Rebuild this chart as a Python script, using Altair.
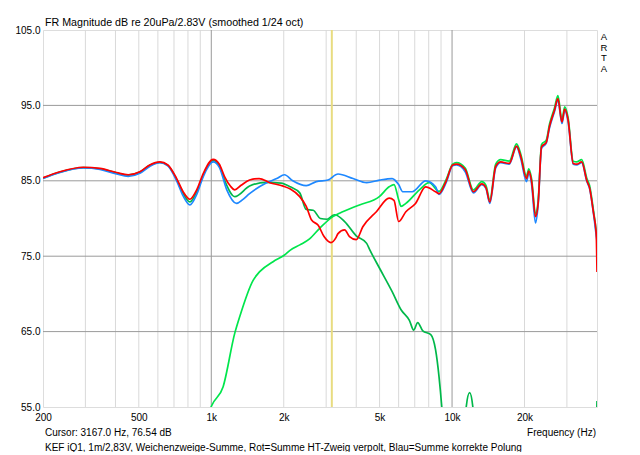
import altair as alt
import pandas as pd

# ---------------- data ----------------
red_f = [200, 235, 294, 345, 404, 452, 505, 555, 612, 660, 718, 764, 815, 870, 927,
         1018, 1080, 1138, 1200, 1252, 1330, 1442, 1580, 1750, 1990, 2130, 2330, 2480,
         2610, 2780, 2940, 3140, 3300, 3360, 3580, 3750, 4000, 4260, 4850, 5480, 5740,
         6000, 6430, 7050, 7770, 8540, 8830, 9460, 10060, 10430, 11340, 12260, 13290,
         13830, 14350, 15180, 15920, 17280, 18530, 19310, 20380, 20840, 21390, 22220,
         22780, 23530, 24620, 25390, 26650, 27520, 28610, 29370, 30330, 31860, 32930,
         34560, 36310, 37240, 38700, 39700, 40000]
red_db = [85.4, 86.2, 86.8, 86.65, 86.1, 85.8, 86.2, 87.1, 87.5, 87.1, 85.3, 83.55, 82.55,
          83.8, 86.0, 87.85, 87.2, 85.5, 84.3, 83.8, 84.4, 85.1, 85.3, 84.75, 84.3, 83.9,
          82.9, 81.6, 79.8, 79.1, 77.6, 76.8, 77.5, 78.0, 78.5, 77.6, 77.2, 78.9, 80.9,
          82.7, 82.4, 79.6, 80.9, 82.0, 84.2, 83.55, 83.3, 85.0, 87.1, 87.2, 86.5, 83.55,
          84.6, 84.1, 82.2, 86.9, 87.5, 87.3, 89.6, 88.2, 85.3, 86.3, 85.0, 80.25, 82.0,
          89.5, 90.1, 92.2, 94.4, 95.9, 92.8, 94.5, 93.1, 87.3, 87.2, 87.5, 85.0, 84.1,
          80.7, 78.0, 72.9]

blue_f = [200, 235, 294, 345, 404, 452, 505, 555, 612, 660, 718, 764, 815, 870, 927,
          1018, 1080, 1160, 1273, 1350, 1442, 1690, 1870, 2014, 2180, 2480, 2730, 3050,
          3360, 3880, 4420, 5000, 5640, 6000, 6240, 6830, 7770, 8540, 8830, 9460, 10060,
          10430, 11340, 12260, 13290, 13830, 14350, 15180, 15920, 17280, 18530, 19310,
          20380, 20840, 21390, 22220, 22780, 23530, 24620, 25390, 26650, 27520, 28610,
          29370, 30330, 31860, 32930, 34560, 36310, 37240, 38700, 39700, 40000]
blue_db = [85.3, 86.1, 86.7, 86.5, 85.9, 85.6, 86.0, 86.9, 87.4, 87.0, 85.0, 83.0, 81.8,
           83.2, 85.6, 87.5, 86.8, 83.8, 82.0, 82.5, 83.3, 84.7, 85.3, 85.8, 85.0, 84.35,
           84.9, 85.1, 85.9, 85.3, 84.75, 85.1, 85.3, 84.5, 83.55, 83.55, 85.0, 84.2, 83.2,
           84.8, 87.0, 87.1, 86.2, 83.4, 84.5, 84.0, 82.0, 86.7, 87.4, 87.2, 89.5, 87.9,
           84.9, 86.0, 84.6, 79.4, 81.8, 89.3, 90.0, 92.0, 94.2, 95.7, 92.6, 94.3, 92.9,
           87.2, 87.1, 87.4, 84.9, 84.0, 80.6, 77.8, 77.0]

low_f = [200, 235, 294, 345, 404, 452, 505, 555, 612, 660, 718, 764, 815, 870, 927,
         1018, 1080, 1138, 1252, 1442, 1690, 1950, 2130, 2330, 2480, 2650, 2840, 3030,
         3250, 3580, 4000, 4420, 4560, 5000, 5640, 6140, 6650, 6930, 7200, 7560, 8160,
         8540, 8830, 9060, 9300, 11200, 11450, 11830, 12200, 12500, 39500, 40000]
low_db = [85.35, 86.15, 86.75, 86.6, 86.05, 85.75, 86.15, 87.05, 87.45, 87.05, 85.2,
          83.3, 82.2, 83.5, 85.8, 87.7, 87.0, 85.0, 82.9, 84.3, 84.8, 84.7, 84.2, 83.4,
          81.2, 81.1, 80.0, 79.9, 80.5, 79.6, 77.7, 76.7, 75.8, 73.4, 70.3, 67.9, 66.5,
          65.2, 66.2, 65.1, 64.6, 62.6, 59.0, 55.1, 50.0, 50.0, 55.0, 56.9, 55.0, 50.0,
          50.0, 55.8]

high_f = [900, 1001, 1120, 1252, 1313, 1492, 1589, 1806, 2014, 2130, 2332, 2560, 2820,
          3200, 3410, 4124, 4989, 5480, 5740, 6000, 6140, 6430, 7320, 8040, 8830, 9460,
          10060, 10430, 11340, 12260, 13290, 13830, 14350, 15180, 15920, 17280, 18530,
          19310, 20380, 20840, 21390, 22220, 22780, 23530, 24620, 25390, 26650, 27520,
          28610, 29370, 30330, 31860, 32930, 34560, 36310, 37240, 38700, 39700, 40000]
high_db = [50.0, 55.1, 57.7, 64.8, 67.0, 71.8, 72.95, 74.27, 75.16, 75.8, 76.5, 77.3,
           78.7, 80.25, 80.7, 81.8, 82.9, 84.2, 84.5, 82.5, 81.6, 82.0, 83.8, 84.75, 83.6,
           85.2, 87.2, 87.4, 86.7, 83.8, 84.9, 84.4, 82.5, 87.2, 87.8, 87.6, 89.9, 88.5,
           85.6, 86.6, 85.3, 80.6, 82.3, 89.8, 90.4, 92.5, 94.7, 96.3, 93.1, 94.8, 93.4,
           87.6, 87.5, 87.8, 85.3, 84.4, 81.0, 78.3, 77.3]

x_tick_values = [200, 500, 1000, 2000, 5000, 10000, 20000]
y_tick_values = [55, 65, 75, 85, 95, 105]
minor_grid_f = [300, 400, 500, 600, 700, 800, 900, 2000, 3000, 4000, 5000, 6000, 7000,
                8000, 9000, 20000, 30000]
major_grid_f = [1000, 10000]
h_grid_db = [65, 75, 85, 95]
cursor_f = [3167]

title_text = "FR Magnitude dB re 20uPa/2.83V (smoothed 1/24 oct)"
cursor_text = "Cursor: 3167.0 Hz, 76.54 dB"
xlabel_text = "Frequency (Hz)"
caption_text = ("KEF iQ1, 1m/2,83V, Weichenzweige-Summe, Rot=Summe HT-Zweig verpolt, "
                "Blau=Summe korrekte Polung")
arta_letters = ["A", "R", "T", "A"]

# ---------------- chart ----------------
W, H = 554, 377
FONT = "Liberation Sans"

xs = alt.Scale(type="log", domain=[200, 40000], nice=False)
ys = alt.Scale(domain=[55, 105], nice=False, zero=False)


def series(f, db, color, width=1.7):
    df = pd.DataFrame({"f": f, "db": db})
    return alt.Chart(df).mark_line(color=color, strokeWidth=width, clip=True,
                                   interpolate="monotone").encode(
        x=alt.X("f:Q", scale=xs),
        y=alt.Y("db:Q", scale=ys),
    )


minor = alt.Chart(pd.DataFrame({"f": minor_grid_f})).mark_rule(
    color="#d9d9d9", strokeWidth=1).encode(x=alt.X("f:Q", scale=xs))
major = alt.Chart(pd.DataFrame({"f": major_grid_f})).mark_rule(
    color="#9a9a9a", strokeWidth=1).encode(x=alt.X("f:Q", scale=xs))
hgrid = alt.Chart(pd.DataFrame({"v": h_grid_db})).mark_rule(
    color="#9a9a9a", strokeWidth=1).encode(y=alt.Y("v:Q", scale=ys))
cursor = alt.Chart(pd.DataFrame({"f": cursor_f})).mark_rule(
    color="#e8dc80", strokeWidth=2).encode(x=alt.X("f:Q", scale=xs))

axes = alt.Chart(pd.DataFrame({"f": [200], "db": [55]})).mark_point(opacity=0).encode(
    x=alt.X("f:Q", scale=xs, axis=alt.Axis(
        values=x_tick_values, grid=False, ticks=False, domain=False, title=None,
        labelExpr="datum.value >= 1000 ? (datum.value / 1000) + 'k' : datum.value",
        labelFont=FONT, labelFontSize=10, labelColor="#000000", labelPadding=5,
        labelOverlap=False, labelFlush=False)),
    y=alt.Y("db:Q", scale=ys, axis=alt.Axis(
        values=y_tick_values, grid=False, ticks=False, domain=False, title=None,
        format=".1f", labelFont=FONT, labelFontSize=10, labelColor="#000000",
        labelPadding=3, labelOverlap=False, labelFlush=False)),
)


def label(text, x, y, align="left", baseline="middle", size=10):
    return alt.Chart(pd.DataFrame({"t": [text]})).mark_text(
        align=align, baseline=baseline, font=FONT, fontSize=size, color="#000000"
    ).encode(text="t:N", x=alt.value(x), y=alt.value(y))


title = label(title_text, 2, -4, baseline="alphabetic", size=10.7)
arta = [label(ch, W + 7, 2 + 10.5 * i, align="center", baseline="top", size=9.5)
        for i, ch in enumerate(arta_letters)]
cursor_lbl = label(cursor_text, 2, 403)
xlab = label(xlabel_text, W - 1, 403, align="right")
caption = label(caption_text, 2, 418)

chart = alt.layer(
    minor, major, hgrid, cursor, axes,
    series(low_f, low_db, "#00b84a"),
    series(high_f, high_db, "#00e64c"),
    series(blue_f, blue_db, "#1e88ff"),
    series(red_f, red_db, "#ff0000"),
    title, *arta, cursor_lbl, xlab, caption,
).properties(
    width=W, height=H,
    autosize=alt.AutoSizeParams(type="none"),
    padding={"left": 35, "top": 22, "right": 35, "bottom": 45},
).configure_view(stroke="#6e6e6e", strokeWidth=1.2).configure(background="white")

chart.save("out.html", embed_options={"renderer": "svg", "actions": False})
